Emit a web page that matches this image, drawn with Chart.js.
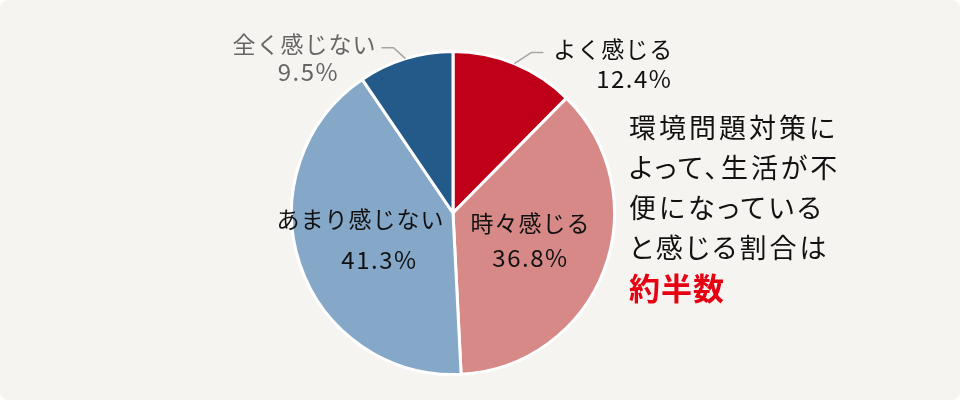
<!DOCTYPE html>
<html>
<head>
<meta charset="utf-8">
<script src="https://cdn.jsdelivr.net/npm/chart.js@4.4.1/dist/chart.umd.min.js"></script>
<style>
  html, body { margin: 0; padding: 0; background: #ffffff; }
  #card {
    position: relative; width: 960px; height: 400px;
    background: #f5f4f0; border-radius: 8px; overflow: hidden;
    font-family: "Noto Sans CJK JP", "Noto Sans", sans-serif;
  }
  #pie { position: absolute; left: 0; top: 0; }
  #note {
    position: absolute; left: 629px; top: 107px;
    font-size: 27px; line-height: 40px; letter-spacing: 3px; color: #111111;
    font-feature-settings: "palt";
  }
  #note b { color: #e60012; font-size: 31px; letter-spacing: 1px; }
</style>
</head>
<body>
<div id="card">
  <canvas id="pie" width="960" height="400"></canvas>
  <div id="note">環境問題対策に<br>よって、生活が不<br>便になっている<br>と感じる割合は<br><b>約半数</b></div>
</div>
<script>
var labels = ['よく感じる', '時々感じる', 'あまり感じない', '全く感じない'];
var values = [12.4, 36.8, 41.3, 9.5];
var colors = ['#c00019', '#d68987', '#86a8c8', '#245a89'];
var labelColors = ['#111111', '#111111', '#111111', '#666666'];
// inside the slice or outside with a leader line
var labelPlace = ['out', 'in', 'in', 'out'];

var pieLabels = {
  id: 'pieLabels',
  afterDatasetsDraw: function (chart) {
    var ctx = chart.ctx;
    var meta = chart.getDatasetMeta(0);
    var nameFont = '23px "Noto Sans CJK JP", "Noto Sans", sans-serif';
    var pctFont = '24px "Noto Sans CJK JP", "Noto Sans", sans-serif';
    ctx.save();
    ctx.textBaseline = 'middle';
    ctx.textAlign = 'center';
    meta.data.forEach(function (arc, i) {
      var p = arc.getProps(['x', 'y', 'startAngle', 'endAngle', 'outerRadius'], true);
      var mid = (p.startAngle + p.endAngle) / 2;
      var cos = Math.cos(mid), sin = Math.sin(mid);
      var pct = values[i].toFixed(1) + '%';
      ctx.fillStyle = labelColors[i];
      var lx, ly, px, py;
      if (labelPlace[i] === 'in') {
        var r = p.outerRadius * 0.5;
        var cx = p.x + cos * r, cy = p.y + sin * r;
        if (cos < 0) {
          lx = cx - 16; ly = cy - 19; px = lx + 19; py = cy + 21;
        } else {
          lx = cx + 2; ly = cy - 19; px = lx; py = cy + 16;
        }
      } else {
        var side = cos >= 0 ? 1 : -1;
        var ex = p.x + cos * p.outerRadius, ey = p.y + sin * p.outerRadius;
        var kx = ex + side * (side > 0 ? 17 : 12), ky = ey - 11;
        var hx = kx + side * 12;
        ctx.strokeStyle = '#a6a6a6';
        ctx.lineWidth = 1.5;
        ctx.beginPath();
        ctx.moveTo(ex, ey);
        ctx.lineTo(kx, ky);
        ctx.lineTo(hx, ky);
        ctx.stroke();
        ctx.font = nameFont;
        ctx.letterSpacing = '1px';
        var w = ctx.measureText(labels[i]).width;
        var tx = hx + side * (side > 0 ? 10 : 5);
        lx = side > 0 ? tx + w / 2 : tx - w / 2;
        ly = ky - 3;
        px = lx + (side > 0 ? 21 : 4);
        py = ky + (side > 0 ? 26 : 24);
      }
      ctx.font = nameFont;
      ctx.letterSpacing = '1px';
      ctx.fillText(labels[i], lx, ly);
      ctx.font = pctFont;
      ctx.letterSpacing = '1.5px';
      ctx.fillText(pct, px, py);
    });
    ctx.restore();
  }
};

new Chart(document.getElementById('pie'), {
  type: 'pie',
  data: {
    labels: labels,
    datasets: [{
      data: values,
      backgroundColor: colors,
      borderColor: '#ffffff',
      borderWidth: 3,
      hoverOffset: 0
    }]
  },
  options: {
    responsive: false,
    animation: false,
    layout: { padding: { left: 290, right: 344, top: 49, bottom: 23 } },
    plugins: {
      legend: { display: false },
      tooltip: { enabled: false }
    }
  },
  plugins: [pieLabels]
});
</script>
</body>
</html>
